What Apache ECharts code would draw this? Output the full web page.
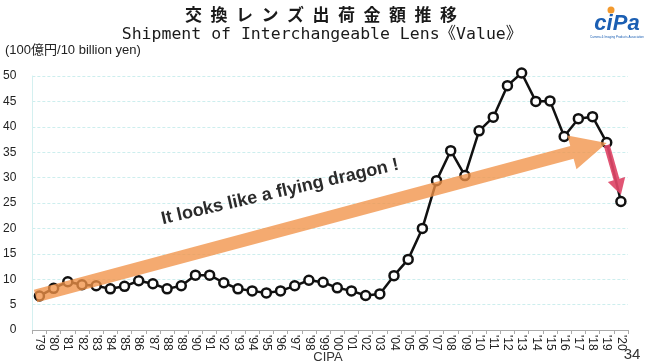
<!DOCTYPE html>
<html>
<head>
<meta charset="utf-8">
<script src="https://cdn.jsdelivr.net/npm/echarts@6/dist/echarts.min.js"></script>
<style>
html,body{margin:0;padding:0;background:#ffffff;}
#c{width:650px;height:363px;}
</style>
</head>
<body>
<div id="c"></div>
<script>
// ---- data ----
const years = ["'79","'80","'81","'82","'83","'84","'85","'86","'87","'88","'89","'90","'91","'92","'93","'94","'95","'96","'97","'98","'99","'00","'01","'02","'03","'04","'05","'06","'07","'08","'09","'10","'11","'12","'13","'14","'15","'16","'17","'18","'19","'20"];
const values = [6.7,8.2,9.5,8.9,8.7,8.1,8.6,9.7,9.1,8.1,8.7,10.8,10.8,9.3,8.1,7.7,7.3,7.7,8.7,9.8,9.4,8.3,7.7,6.8,7.1,10.7,13.9,20.0,29.4,35.3,30.4,39.2,41.9,48.1,50.6,45.0,45.1,38.1,41.6,42.0,36.9,25.3];
const yTicks = [0,5,10,15,20,25,30,35,40,45,50];
const titleJa = "交換レンズ出荷金額推移";
const titleEn = "Shipment of Interchangeable Lens《Value》";
const unitLabel = "(100億円/10 billion yen)";
const annotation = "It looks like a flying dragon !";
// trend arrow anchors (data coordinates)
const trendStart = ["'79", 6.9];
const trendTip = ["'19", 36.8];
const dropStart = ["'19", 36.4];
const dropTip = ["'20", 26.6];

const chart = echarts.init(document.getElementById('c'), null, {renderer:'canvas'});
chart.setOption({
  animation:false,
  backgroundColor:'#ffffff',
  grid:{left:32, right:22, top:76, bottom:33},
  xAxis:{
    type:'category', data:years, boundaryGap:true,
    axisLine:{lineStyle:{color:'#aaaaaa', width:1}},
    axisTick:{show:true, length:4, lineStyle:{color:'#aaaaaa'}},
    axisLabel:{rotate:-90, interval:0, margin:5, color:'#222', fontSize:12, fontFamily:'Liberation Sans, Arial, sans-serif'}
  },
  yAxis:{
    type:'value', min:yTicks[0], max:yTicks[yTicks.length-1], interval:5,
    axisLine:{show:true, lineStyle:{color:'#d4f0f0'}},
    axisTick:{show:false},
    splitLine:{lineStyle:{color:'#cdeeee', type:[3,2], width:1}},
    axisLabel:{color:'#222', fontSize:12, margin:16, fontFamily:'Liberation Sans, Arial, sans-serif'}
  },
  series:[{
    type:'line', data:values, clip:false,
    symbol:'circle', symbolSize:9,
    itemStyle:{color:'#ffffff', borderColor:'#111', borderWidth:2.5},
    lineStyle:{color:'#111', width:2.5},
    z:2
  }]
});

function px(p){ return chart.convertToPixel({gridIndex:0}, p); }
function arrowPts(a, b, sh, hl, hh, extBack){
  const dx=b[0]-a[0], dy=b[1]-a[1], L=Math.hypot(dx,dy);
  const ux=dx/L, uy=dy/L, nx=-uy, ny=ux;
  const s=[a[0]-ux*extBack, a[1]-uy*extBack];
  const base=[b[0]-ux*hl, b[1]-uy*hl];
  return [
    [s[0]+nx*sh, s[1]+ny*sh],
    [base[0]+nx*sh, base[1]+ny*sh],
    [base[0]+nx*hh, base[1]+ny*hh],
    [b[0], b[1]],
    [base[0]-nx*hh, base[1]-ny*hh],
    [base[0]-nx*sh, base[1]-ny*sh],
    [s[0]-nx*sh, s[1]-ny*sh]
  ];
}
const t0=px(trendStart), t1=px(trendTip);
const d0=px(dropStart), d1=px(dropTip);
const spacedTitle = titleJa.split('').join('\u2002');

chart.setOption({
  graphic:[
    {type:'polygon', z:50, shape:{points:arrowPts(t0,t1,6.5,36,17.5,4)}, style:{fill:'rgba(241,146,72,0.78)'}},
    {type:'polygon', z:51, shape:{points:arrowPts(d0,d1,3,16,9,0)}, style:{fill:'rgba(222,70,104,0.92)'}},
    {type:'text', z:60, x:280, y:192, rotation:13*Math.PI/180,
      style:{text:annotation, fill:'#2b2b2b', font:'bold 18px "Liberation Sans", Arial, sans-serif', align:'center', verticalAlign:'middle'}},
    {type:'text', z:60, x:321, y:15,
      style:{text:spacedTitle, fill:'#1a1a1a', font:'bold 17px "Noto Sans CJK JP", sans-serif', align:'center', verticalAlign:'middle'}},
    {type:'text', z:60, x:322, y:35,
      style:{text:titleEn, fill:'#1a1a1a', font:'16.5px "DejaVu Sans Mono", "Noto Sans CJK JP", monospace', align:'center', verticalAlign:'middle'}},
    {type:'text', z:60, x:5, y:50,
      style:{text:unitLabel, fill:'#222', font:'13px "Liberation Sans", "Noto Sans CJK JP", sans-serif', align:'left', verticalAlign:'middle'}},
    {type:'text', z:60, x:617, y:24,
      style:{text:'ciPa', fill:'#1b5fb3', font:'italic bold 22px "Liberation Sans", Arial, sans-serif', align:'center', verticalAlign:'middle'}},
    {type:'circle', z:61, shape:{cx:611, cy:10, r:3.5}, style:{fill:'#f39a2e'}},
    {type:'text', z:60, x:617, y:37,
      style:{text:'Camera & Imaging Products Association', fill:'#1b5fb3', font:'3px sans-serif', align:'center', verticalAlign:'middle'}},
    {type:'text', z:60, x:328, y:364,
      style:{text:'CIPA', fill:'#333', font:'13px "Liberation Sans", Arial, sans-serif', align:'center', verticalAlign:'bottom'}},
    {type:'text', z:60, x:632, y:355,
      style:{text:'34', fill:'#333', font:'15px "Liberation Sans Narrow", "Liberation Sans", sans-serif', align:'center', verticalAlign:'middle'}}
  ]
});
</script>
</body>
</html>
